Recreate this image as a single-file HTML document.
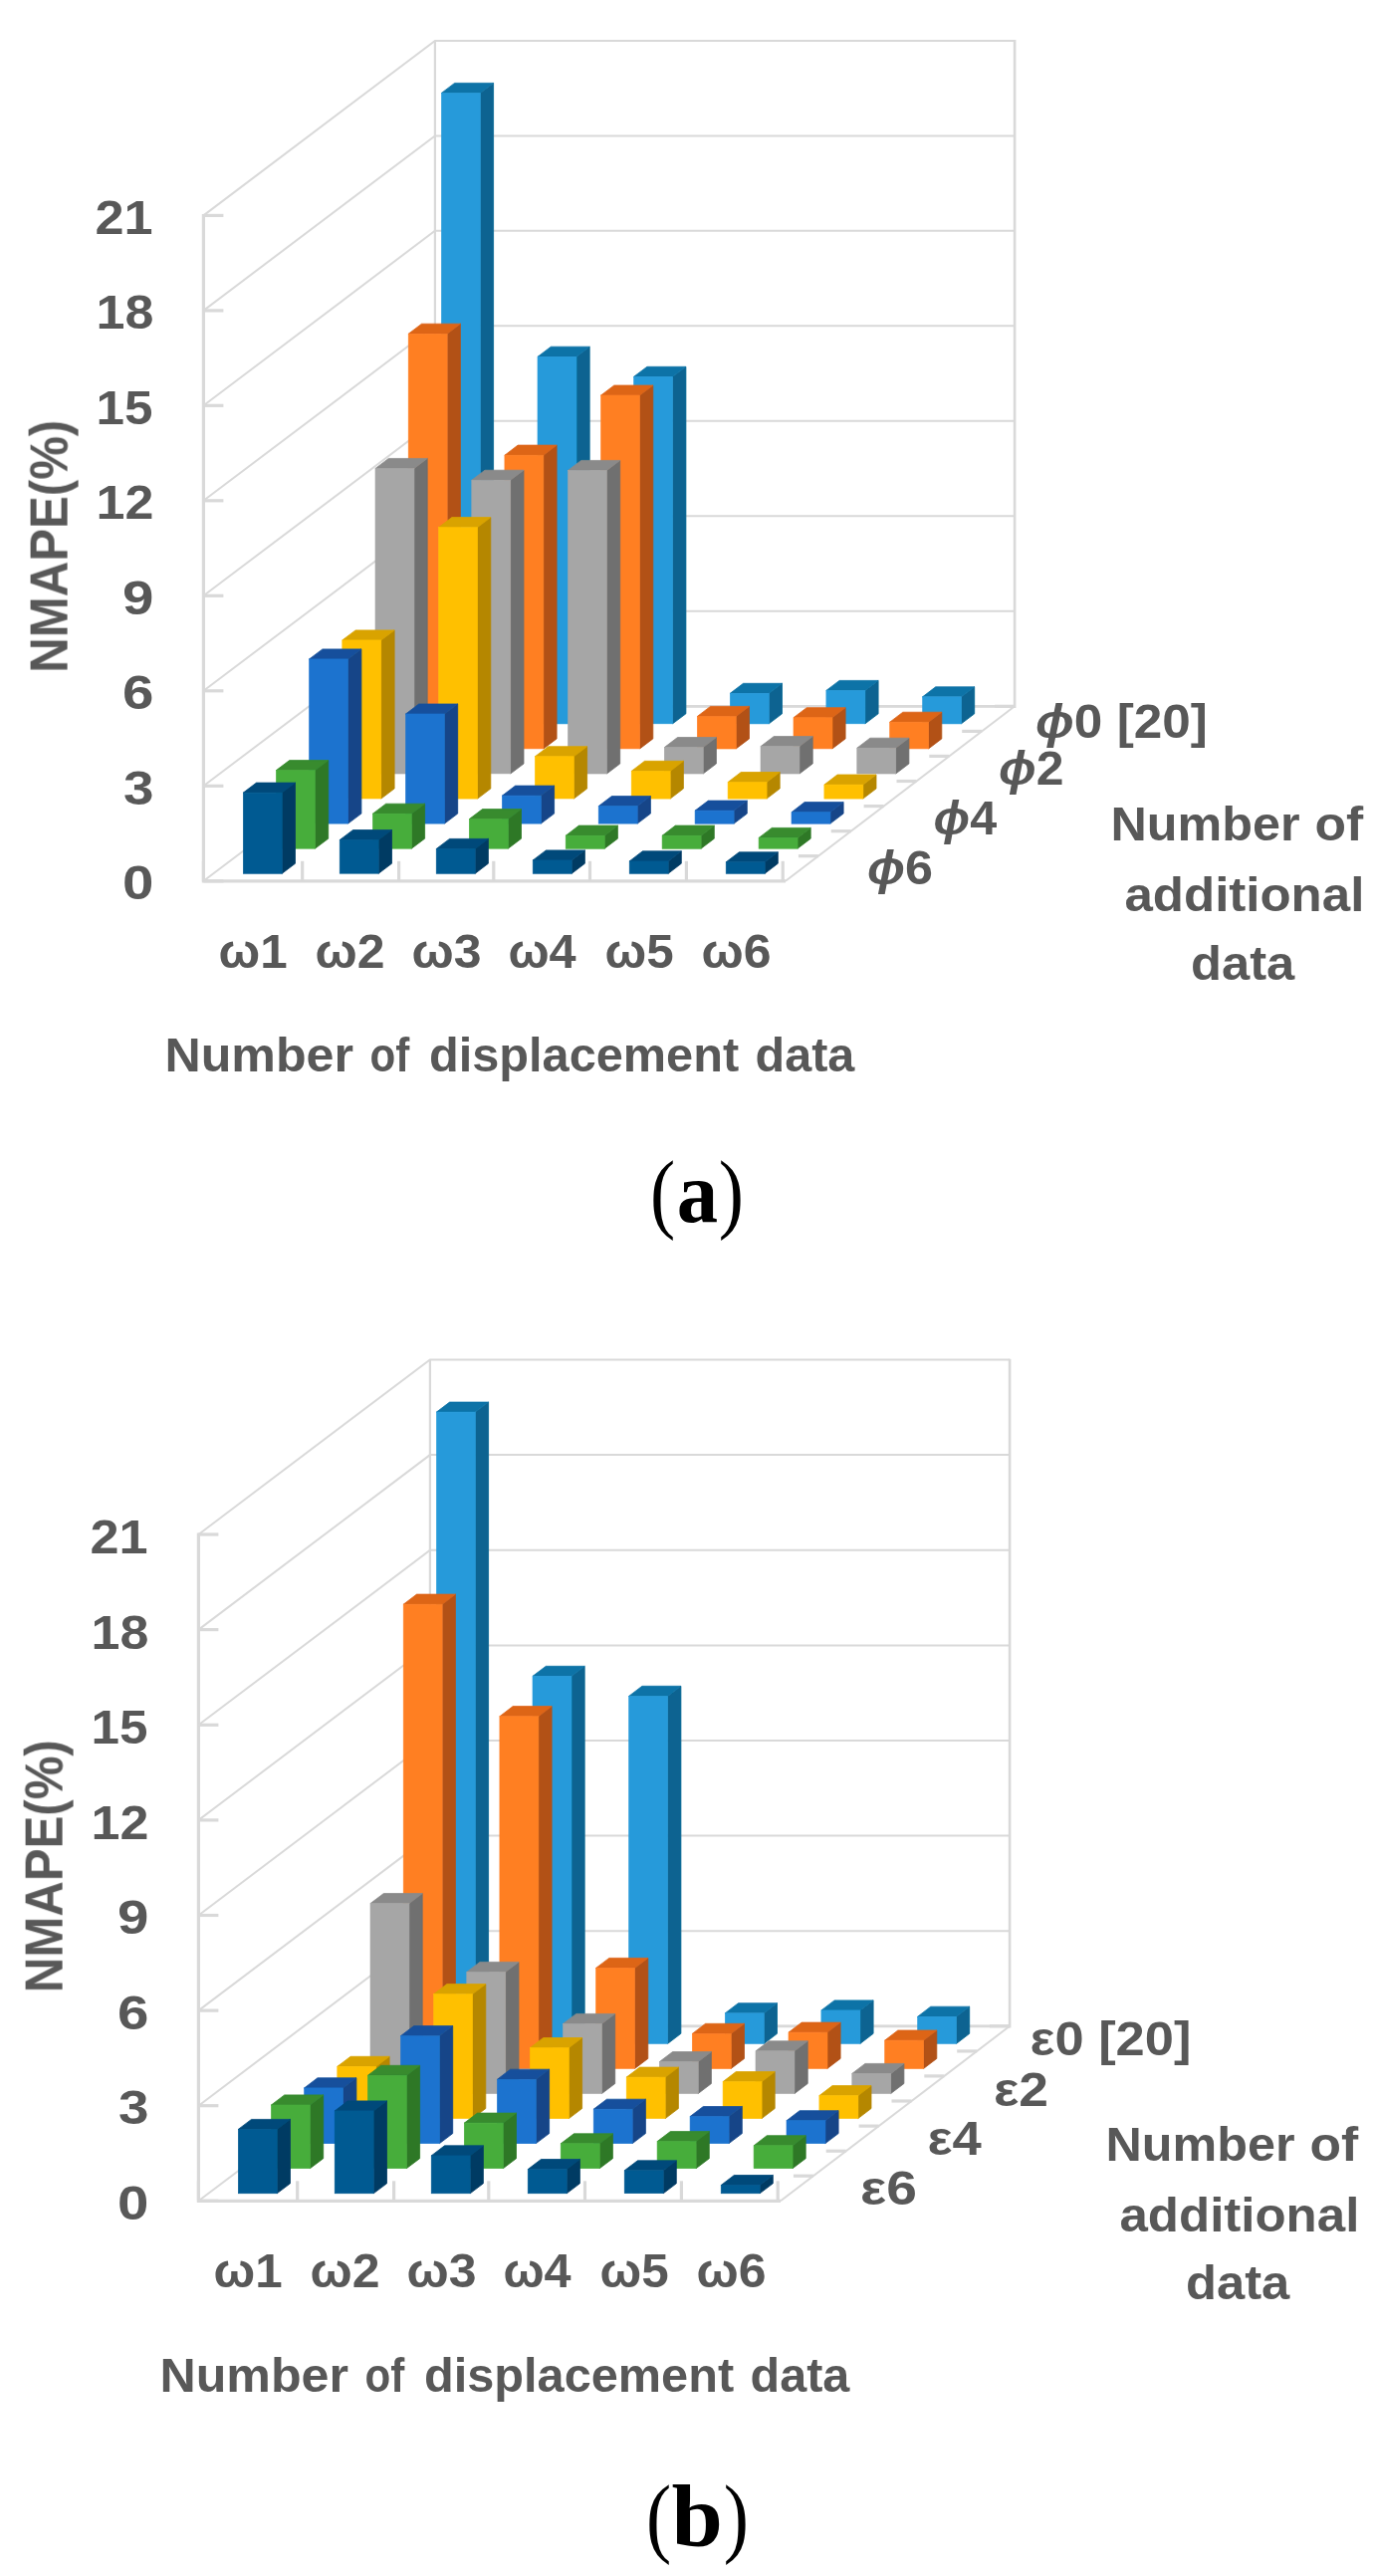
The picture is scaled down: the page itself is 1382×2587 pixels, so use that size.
<!DOCTYPE html>
<html><head><meta charset="utf-8"><title>Figure</title>
<style>html,body{margin:0;padding:0;background:#fff}svg{display:block}text{font-family:"Liberation Sans",sans-serif;font-weight:bold;fill:#595959}text.cp{font-family:"Liberation Serif",serif;font-weight:normal;font-size:88px;fill:#000;text-anchor:middle}text.cb{font-weight:bold}</style></head>
<body>
<svg width="1382" height="2587" viewBox="0 0 1382 2587">
<rect width="1382" height="2587" fill="#fff"/>
<defs><filter id="sb" x="0" y="0" width="100%" height="100%" filterUnits="userSpaceOnUse"><feGaussianBlur stdDeviation="0.55"/></filter></defs>
<g filter="url(#sb)">
<path d="M204.4 884.8 L436.9 709.3 L1019.1 709.3" fill="none" stroke="#d9d9d9" stroke-width="2.0"/>
<path d="M204.4 789.3 L436.9 613.8 L1019.1 613.8" fill="none" stroke="#d9d9d9" stroke-width="2.0"/>
<path d="M204.4 693.8 L436.9 518.3 L1019.1 518.3" fill="none" stroke="#d9d9d9" stroke-width="2.0"/>
<path d="M204.4 598.3 L436.9 422.8 L1019.1 422.8" fill="none" stroke="#d9d9d9" stroke-width="2.0"/>
<path d="M204.4 502.8 L436.9 327.3 L1019.1 327.3" fill="none" stroke="#d9d9d9" stroke-width="2.0"/>
<path d="M204.4 407.3 L436.9 231.8 L1019.1 231.8" fill="none" stroke="#d9d9d9" stroke-width="2.0"/>
<path d="M204.4 311.9 L436.9 136.4 L1019.1 136.4" fill="none" stroke="#d9d9d9" stroke-width="2.0"/>
<path d="M204.4 216.4 L436.9 40.9 L1019.1 40.9" fill="none" stroke="#d9d9d9" stroke-width="2.0"/>
<path d="M436.9 709.3 V40.9" fill="none" stroke="#d9d9d9" stroke-width="2.2"/>
<path d="M1019.1 710.9 V40.1" fill="none" stroke="#d9d9d9" stroke-width="2.6"/>
<path d="M436.9 709.3 H1019.1" stroke="#d9d9d9" stroke-width="2.8" fill="none"/>
<path d="M789.0 884.8 L1019.1 709.3" stroke="#d9d9d9" stroke-width="2" fill="none"/>
<path d="M204.4 214.9 V884.8 H789.0" stroke="#d9d9d9" stroke-width="3.2" fill="none" stroke-linejoin="miter"/>
<path d="M204.4 884.8 h20" stroke="#d9d9d9" stroke-width="3.2"/>
<path d="M204.4 789.3 h20" stroke="#d9d9d9" stroke-width="3.2"/>
<path d="M204.4 693.8 h20" stroke="#d9d9d9" stroke-width="3.2"/>
<path d="M204.4 598.3 h20" stroke="#d9d9d9" stroke-width="3.2"/>
<path d="M204.4 502.8 h20" stroke="#d9d9d9" stroke-width="3.2"/>
<path d="M204.4 407.3 h20" stroke="#d9d9d9" stroke-width="3.2"/>
<path d="M204.4 311.9 h20" stroke="#d9d9d9" stroke-width="3.2"/>
<path d="M204.4 216.4 h20" stroke="#d9d9d9" stroke-width="3.2"/>
<path d="M204.4 884.8 v-20" stroke="#d9d9d9" stroke-width="3.2"/>
<path d="M303.7 884.8 v-20" stroke="#d9d9d9" stroke-width="3.2"/>
<path d="M400.6 884.8 v-20" stroke="#d9d9d9" stroke-width="3.2"/>
<path d="M495.8 884.8 v-20" stroke="#d9d9d9" stroke-width="3.2"/>
<path d="M592.5 884.8 v-20" stroke="#d9d9d9" stroke-width="3.2"/>
<path d="M689.4 884.8 v-20" stroke="#d9d9d9" stroke-width="3.2"/>
<path d="M786.2 884.8 v-20" stroke="#d9d9d9" stroke-width="3.2"/>
<path d="M821.9 859.7 h-20" stroke="#d9d9d9" stroke-width="3.2"/>
<path d="M854.7 834.7 h-20" stroke="#d9d9d9" stroke-width="3.2"/>
<path d="M887.6 809.6 h-20" stroke="#d9d9d9" stroke-width="3.2"/>
<path d="M920.5 784.5 h-20" stroke="#d9d9d9" stroke-width="3.2"/>
<path d="M953.3 759.4 h-20" stroke="#d9d9d9" stroke-width="3.2"/>
<path d="M986.2 734.4 h-20" stroke="#d9d9d9" stroke-width="3.2"/>
<path d="M1019.1 709.3 h-20" stroke="#d9d9d9" stroke-width="3.2"/>
<path d="M482.3 726.8 L495.6 716.8 L495.6 83.4 L482.3 93.4Z" fill="#086491" stroke="#086491" stroke-width="0.8" stroke-linejoin="round"/>
<path d="M443.4 93.4 L456.6 83.4 L495.6 83.4 L482.3 93.4Z" fill="#0d73a7" stroke="#0d73a7" stroke-width="0.8" stroke-linejoin="round"/>
<rect x="443.4" y="93.4" width="39.0" height="633.4" fill="#269ada" stroke="#269ada" stroke-width="0.6"/>
<path d="M579.0 726.8 L592.2 716.8 L592.2 348.2 L579.0 358.3Z" fill="#086491" stroke="#086491" stroke-width="0.8" stroke-linejoin="round"/>
<path d="M540.0 358.3 L553.3 348.2 L592.2 348.2 L579.0 358.3Z" fill="#0d73a7" stroke="#0d73a7" stroke-width="0.8" stroke-linejoin="round"/>
<rect x="540.0" y="358.3" width="39.0" height="368.6" fill="#269ada" stroke="#269ada" stroke-width="0.6"/>
<path d="M675.6 726.8 L688.9 716.8 L688.9 368.3 L675.6 378.3Z" fill="#086491" stroke="#086491" stroke-width="0.8" stroke-linejoin="round"/>
<path d="M636.6 378.3 L649.9 368.3 L688.9 368.3 L675.6 378.3Z" fill="#0d73a7" stroke="#0d73a7" stroke-width="0.8" stroke-linejoin="round"/>
<rect x="636.6" y="378.3" width="39.0" height="348.5" fill="#269ada" stroke="#269ada" stroke-width="0.6"/>
<path d="M772.3 726.8 L785.5 716.8 L785.5 686.3 L772.3 696.3Z" fill="#086491" stroke="#086491" stroke-width="0.8" stroke-linejoin="round"/>
<path d="M733.3 696.3 L746.5 686.3 L785.5 686.3 L772.3 696.3Z" fill="#0d73a7" stroke="#0d73a7" stroke-width="0.8" stroke-linejoin="round"/>
<rect x="733.3" y="696.3" width="39.0" height="30.6" fill="#269ada" stroke="#269ada" stroke-width="0.6"/>
<path d="M868.9 726.8 L882.1 716.8 L882.1 683.4 L868.9 693.4Z" fill="#086491" stroke="#086491" stroke-width="0.8" stroke-linejoin="round"/>
<path d="M829.9 693.4 L843.1 683.4 L882.1 683.4 L868.9 693.4Z" fill="#0d73a7" stroke="#0d73a7" stroke-width="0.8" stroke-linejoin="round"/>
<rect x="829.9" y="693.4" width="39.0" height="33.4" fill="#269ada" stroke="#269ada" stroke-width="0.6"/>
<path d="M965.5 726.8 L978.7 716.8 L978.7 689.8 L965.5 699.8Z" fill="#086491" stroke="#086491" stroke-width="0.8" stroke-linejoin="round"/>
<path d="M926.6 699.8 L939.7 689.8 L978.7 689.8 L965.5 699.8Z" fill="#0d73a7" stroke="#0d73a7" stroke-width="0.8" stroke-linejoin="round"/>
<rect x="926.6" y="699.8" width="39.0" height="27.1" fill="#269ada" stroke="#269ada" stroke-width="0.6"/>
<path d="M449.2 751.9 L462.4 741.9 L462.4 325.2 L449.2 335.3Z" fill="#b25116" stroke="#b25116" stroke-width="0.8" stroke-linejoin="round"/>
<path d="M410.2 335.3 L423.5 325.2 L462.4 325.2 L449.2 335.3Z" fill="#dd6519" stroke="#dd6519" stroke-width="0.8" stroke-linejoin="round"/>
<rect x="410.2" y="335.3" width="39.0" height="416.7" fill="#ff7f24" stroke="#ff7f24" stroke-width="0.6"/>
<path d="M545.9 751.9 L559.1 741.9 L559.1 447.1 L545.9 457.2Z" fill="#b25116" stroke="#b25116" stroke-width="0.8" stroke-linejoin="round"/>
<path d="M506.9 457.2 L520.1 447.1 L559.1 447.1 L545.9 457.2Z" fill="#dd6519" stroke="#dd6519" stroke-width="0.8" stroke-linejoin="round"/>
<rect x="506.9" y="457.2" width="39.0" height="294.7" fill="#ff7f24" stroke="#ff7f24" stroke-width="0.6"/>
<path d="M642.6 751.9 L655.8 741.9 L655.8 387.0 L642.6 397.0Z" fill="#b25116" stroke="#b25116" stroke-width="0.8" stroke-linejoin="round"/>
<path d="M603.6 397.0 L616.8 387.0 L655.8 387.0 L642.6 397.0Z" fill="#dd6519" stroke="#dd6519" stroke-width="0.8" stroke-linejoin="round"/>
<rect x="603.6" y="397.0" width="39.0" height="354.9" fill="#ff7f24" stroke="#ff7f24" stroke-width="0.6"/>
<path d="M739.2 751.9 L752.5 741.9 L752.5 709.4 L739.2 719.5Z" fill="#b25116" stroke="#b25116" stroke-width="0.8" stroke-linejoin="round"/>
<path d="M700.3 719.5 L713.5 709.4 L752.5 709.4 L739.2 719.5Z" fill="#dd6519" stroke="#dd6519" stroke-width="0.8" stroke-linejoin="round"/>
<rect x="700.3" y="719.5" width="39.0" height="32.5" fill="#ff7f24" stroke="#ff7f24" stroke-width="0.6"/>
<path d="M835.9 751.9 L849.1 741.9 L849.1 710.7 L835.9 720.7Z" fill="#b25116" stroke="#b25116" stroke-width="0.8" stroke-linejoin="round"/>
<path d="M797.0 720.7 L810.2 710.7 L849.1 710.7 L835.9 720.7Z" fill="#dd6519" stroke="#dd6519" stroke-width="0.8" stroke-linejoin="round"/>
<rect x="797.0" y="720.7" width="39.0" height="31.2" fill="#ff7f24" stroke="#ff7f24" stroke-width="0.6"/>
<path d="M932.6 751.9 L945.8 741.9 L945.8 715.2 L932.6 725.2Z" fill="#b25116" stroke="#b25116" stroke-width="0.8" stroke-linejoin="round"/>
<path d="M893.7 725.2 L906.8 715.2 L945.8 715.2 L932.6 725.2Z" fill="#dd6519" stroke="#dd6519" stroke-width="0.8" stroke-linejoin="round"/>
<rect x="893.7" y="725.2" width="39.0" height="26.7" fill="#ff7f24" stroke="#ff7f24" stroke-width="0.6"/>
<path d="M416.0 777.0 L429.2 767.0 L429.2 460.4 L416.0 470.5Z" fill="#6f6f6f" stroke="#6f6f6f" stroke-width="0.8" stroke-linejoin="round"/>
<path d="M377.0 470.5 L390.3 460.4 L429.2 460.4 L416.0 470.5Z" fill="#8a8a8a" stroke="#8a8a8a" stroke-width="0.8" stroke-linejoin="round"/>
<rect x="377.0" y="470.5" width="39.0" height="306.5" fill="#a6a6a6" stroke="#a6a6a6" stroke-width="0.6"/>
<path d="M512.7 777.0 L526.0 767.0 L526.0 472.2 L512.7 482.2Z" fill="#6f6f6f" stroke="#6f6f6f" stroke-width="0.8" stroke-linejoin="round"/>
<path d="M473.8 482.2 L487.0 472.2 L526.0 472.2 L512.7 482.2Z" fill="#8a8a8a" stroke="#8a8a8a" stroke-width="0.8" stroke-linejoin="round"/>
<rect x="473.8" y="482.2" width="39.0" height="294.7" fill="#a6a6a6" stroke="#a6a6a6" stroke-width="0.6"/>
<path d="M609.5 777.0 L622.7 767.0 L622.7 462.4 L609.5 472.4Z" fill="#6f6f6f" stroke="#6f6f6f" stroke-width="0.8" stroke-linejoin="round"/>
<path d="M570.5 472.4 L583.7 462.4 L622.7 462.4 L609.5 472.4Z" fill="#8a8a8a" stroke="#8a8a8a" stroke-width="0.8" stroke-linejoin="round"/>
<rect x="570.5" y="472.4" width="39.0" height="304.6" fill="#a6a6a6" stroke="#a6a6a6" stroke-width="0.6"/>
<path d="M706.2 777.0 L719.4 767.0 L719.4 740.5 L706.2 750.6Z" fill="#6f6f6f" stroke="#6f6f6f" stroke-width="0.8" stroke-linejoin="round"/>
<path d="M667.3 750.6 L680.5 740.5 L719.4 740.5 L706.2 750.6Z" fill="#8a8a8a" stroke="#8a8a8a" stroke-width="0.8" stroke-linejoin="round"/>
<rect x="667.3" y="750.6" width="39.0" height="26.4" fill="#a6a6a6" stroke="#a6a6a6" stroke-width="0.6"/>
<path d="M803.0 777.0 L816.2 767.0 L816.2 739.6 L803.0 749.6Z" fill="#6f6f6f" stroke="#6f6f6f" stroke-width="0.8" stroke-linejoin="round"/>
<path d="M764.0 749.6 L777.2 739.6 L816.2 739.6 L803.0 749.6Z" fill="#8a8a8a" stroke="#8a8a8a" stroke-width="0.8" stroke-linejoin="round"/>
<rect x="764.0" y="749.6" width="39.0" height="27.4" fill="#a6a6a6" stroke="#a6a6a6" stroke-width="0.6"/>
<path d="M899.7 777.0 L912.9 767.0 L912.9 741.2 L899.7 751.2Z" fill="#6f6f6f" stroke="#6f6f6f" stroke-width="0.8" stroke-linejoin="round"/>
<path d="M860.8 751.2 L873.9 741.2 L912.9 741.2 L899.7 751.2Z" fill="#8a8a8a" stroke="#8a8a8a" stroke-width="0.8" stroke-linejoin="round"/>
<rect x="860.8" y="751.2" width="39.0" height="25.8" fill="#a6a6a6" stroke="#a6a6a6" stroke-width="0.6"/>
<path d="M382.8 802.1 L396.1 792.0 L396.1 632.9 L382.8 642.9Z" fill="#b58700" stroke="#b58700" stroke-width="0.8" stroke-linejoin="round"/>
<path d="M343.8 642.9 L357.1 632.9 L396.1 632.9 L382.8 642.9Z" fill="#d9a300" stroke="#d9a300" stroke-width="0.8" stroke-linejoin="round"/>
<rect x="343.8" y="642.9" width="39.0" height="159.1" fill="#ffc000" stroke="#ffc000" stroke-width="0.6"/>
<path d="M479.6 802.1 L492.8 792.0 L492.8 519.6 L479.6 529.6Z" fill="#b58700" stroke="#b58700" stroke-width="0.8" stroke-linejoin="round"/>
<path d="M440.6 529.6 L453.9 519.6 L492.8 519.6 L479.6 529.6Z" fill="#d9a300" stroke="#d9a300" stroke-width="0.8" stroke-linejoin="round"/>
<rect x="440.6" y="529.6" width="39.0" height="272.5" fill="#ffc000" stroke="#ffc000" stroke-width="0.6"/>
<path d="M576.4 802.1 L589.6 792.0 L589.6 749.7 L576.4 759.7Z" fill="#b58700" stroke="#b58700" stroke-width="0.8" stroke-linejoin="round"/>
<path d="M537.4 759.7 L550.7 749.7 L589.6 749.7 L576.4 759.7Z" fill="#d9a300" stroke="#d9a300" stroke-width="0.8" stroke-linejoin="round"/>
<rect x="537.4" y="759.7" width="39.0" height="42.3" fill="#ffc000" stroke="#ffc000" stroke-width="0.6"/>
<path d="M673.2 802.1 L686.4 792.0 L686.4 764.3 L673.2 774.4Z" fill="#b58700" stroke="#b58700" stroke-width="0.8" stroke-linejoin="round"/>
<path d="M634.2 774.4 L647.5 764.3 L686.4 764.3 L673.2 774.4Z" fill="#d9a300" stroke="#d9a300" stroke-width="0.8" stroke-linejoin="round"/>
<rect x="634.2" y="774.4" width="39.0" height="27.7" fill="#ffc000" stroke="#ffc000" stroke-width="0.6"/>
<path d="M770.0 802.1 L783.2 792.0 L783.2 775.5 L770.0 785.5Z" fill="#b58700" stroke="#b58700" stroke-width="0.8" stroke-linejoin="round"/>
<path d="M731.1 785.5 L744.2 775.5 L783.2 775.5 L770.0 785.5Z" fill="#d9a300" stroke="#d9a300" stroke-width="0.8" stroke-linejoin="round"/>
<rect x="731.1" y="785.5" width="39.0" height="16.6" fill="#ffc000" stroke="#ffc000" stroke-width="0.6"/>
<path d="M866.8 802.1 L880.0 792.0 L880.0 778.0 L866.8 788.1Z" fill="#b58700" stroke="#b58700" stroke-width="0.8" stroke-linejoin="round"/>
<path d="M827.9 788.1 L841.0 778.0 L880.0 778.0 L866.8 788.1Z" fill="#d9a300" stroke="#d9a300" stroke-width="0.8" stroke-linejoin="round"/>
<rect x="827.9" y="788.1" width="39.0" height="14.0" fill="#ffc000" stroke="#ffc000" stroke-width="0.6"/>
<path d="M349.6 827.1 L362.9 817.1 L362.9 651.9 L349.6 661.9Z" fill="#134488" stroke="#134488" stroke-width="0.8" stroke-linejoin="round"/>
<path d="M310.6 661.9 L323.9 651.9 L362.9 651.9 L349.6 661.9Z" fill="#17509c" stroke="#17509c" stroke-width="0.8" stroke-linejoin="round"/>
<rect x="310.6" y="661.9" width="39.0" height="165.2" fill="#1c73cf" stroke="#1c73cf" stroke-width="0.6"/>
<path d="M446.5 827.1 L459.7 817.1 L459.7 707.0 L446.5 717.0Z" fill="#134488" stroke="#134488" stroke-width="0.8" stroke-linejoin="round"/>
<path d="M407.5 717.0 L420.7 707.0 L459.7 707.0 L446.5 717.0Z" fill="#17509c" stroke="#17509c" stroke-width="0.8" stroke-linejoin="round"/>
<rect x="407.5" y="717.0" width="39.0" height="110.1" fill="#1c73cf" stroke="#1c73cf" stroke-width="0.6"/>
<path d="M543.3 827.1 L556.6 817.1 L556.6 789.1 L543.3 799.1Z" fill="#134488" stroke="#134488" stroke-width="0.8" stroke-linejoin="round"/>
<path d="M504.4 799.1 L517.6 789.1 L556.6 789.1 L543.3 799.1Z" fill="#17509c" stroke="#17509c" stroke-width="0.8" stroke-linejoin="round"/>
<rect x="504.4" y="799.1" width="39.0" height="28.0" fill="#1c73cf" stroke="#1c73cf" stroke-width="0.6"/>
<path d="M640.2 827.1 L653.4 817.1 L653.4 799.6 L640.2 809.6Z" fill="#134488" stroke="#134488" stroke-width="0.8" stroke-linejoin="round"/>
<path d="M601.2 809.6 L614.4 799.6 L653.4 799.6 L640.2 809.6Z" fill="#17509c" stroke="#17509c" stroke-width="0.8" stroke-linejoin="round"/>
<rect x="601.2" y="809.6" width="39.0" height="17.5" fill="#1c73cf" stroke="#1c73cf" stroke-width="0.6"/>
<path d="M737.1 827.1 L750.3 817.1 L750.3 804.1 L737.1 814.1Z" fill="#134488" stroke="#134488" stroke-width="0.8" stroke-linejoin="round"/>
<path d="M698.1 814.1 L711.3 804.1 L750.3 804.1 L737.1 814.1Z" fill="#17509c" stroke="#17509c" stroke-width="0.8" stroke-linejoin="round"/>
<rect x="698.1" y="814.1" width="39.0" height="13.1" fill="#1c73cf" stroke="#1c73cf" stroke-width="0.6"/>
<path d="M833.9 827.1 L847.1 817.1 L847.1 805.6 L833.9 815.7Z" fill="#134488" stroke="#134488" stroke-width="0.8" stroke-linejoin="round"/>
<path d="M795.0 815.7 L808.1 805.6 L847.1 805.6 L833.9 815.7Z" fill="#17509c" stroke="#17509c" stroke-width="0.8" stroke-linejoin="round"/>
<rect x="795.0" y="815.7" width="39.0" height="11.5" fill="#1c73cf" stroke="#1c73cf" stroke-width="0.6"/>
<path d="M316.4 852.2 L329.7 842.2 L329.7 763.6 L316.4 773.6Z" fill="#2e7826" stroke="#2e7826" stroke-width="0.8" stroke-linejoin="round"/>
<path d="M277.4 773.6 L290.7 763.6 L329.7 763.6 L316.4 773.6Z" fill="#378b2e" stroke="#378b2e" stroke-width="0.8" stroke-linejoin="round"/>
<rect x="277.4" y="773.6" width="39.0" height="78.6" fill="#47ad3b" stroke="#47ad3b" stroke-width="0.6"/>
<path d="M413.3 852.2 L426.6 842.2 L426.6 807.2 L413.3 817.2Z" fill="#2e7826" stroke="#2e7826" stroke-width="0.8" stroke-linejoin="round"/>
<path d="M374.4 817.2 L387.6 807.2 L426.6 807.2 L413.3 817.2Z" fill="#378b2e" stroke="#378b2e" stroke-width="0.8" stroke-linejoin="round"/>
<rect x="374.4" y="817.2" width="39.0" height="35.0" fill="#47ad3b" stroke="#47ad3b" stroke-width="0.6"/>
<path d="M510.3 852.2 L523.5 842.2 L523.5 812.6 L510.3 822.6Z" fill="#2e7826" stroke="#2e7826" stroke-width="0.8" stroke-linejoin="round"/>
<path d="M471.3 822.6 L484.5 812.6 L523.5 812.6 L510.3 822.6Z" fill="#378b2e" stroke="#378b2e" stroke-width="0.8" stroke-linejoin="round"/>
<rect x="471.3" y="822.6" width="39.0" height="29.6" fill="#47ad3b" stroke="#47ad3b" stroke-width="0.6"/>
<path d="M607.2 852.2 L620.4 842.2 L620.4 829.1 L607.2 839.2Z" fill="#2e7826" stroke="#2e7826" stroke-width="0.8" stroke-linejoin="round"/>
<path d="M568.2 839.2 L581.4 829.1 L620.4 829.1 L607.2 839.2Z" fill="#378b2e" stroke="#378b2e" stroke-width="0.8" stroke-linejoin="round"/>
<rect x="568.2" y="839.2" width="39.0" height="13.1" fill="#47ad3b" stroke="#47ad3b" stroke-width="0.6"/>
<path d="M704.1 852.2 L717.3 842.2 L717.3 829.1 L704.1 839.2Z" fill="#2e7826" stroke="#2e7826" stroke-width="0.8" stroke-linejoin="round"/>
<path d="M665.1 839.2 L678.3 829.1 L717.3 829.1 L704.1 839.2Z" fill="#378b2e" stroke="#378b2e" stroke-width="0.8" stroke-linejoin="round"/>
<rect x="665.1" y="839.2" width="39.0" height="13.1" fill="#47ad3b" stroke="#47ad3b" stroke-width="0.6"/>
<path d="M801.0 852.2 L814.2 842.2 L814.2 831.4 L801.0 841.4Z" fill="#2e7826" stroke="#2e7826" stroke-width="0.8" stroke-linejoin="round"/>
<path d="M762.1 841.4 L775.2 831.4 L814.2 831.4 L801.0 841.4Z" fill="#378b2e" stroke="#378b2e" stroke-width="0.8" stroke-linejoin="round"/>
<rect x="762.1" y="841.4" width="39.0" height="10.8" fill="#47ad3b" stroke="#47ad3b" stroke-width="0.6"/>
<path d="M283.2 877.3 L296.5 867.2 L296.5 786.1 L283.2 796.1Z" fill="#003a63" stroke="#003a63" stroke-width="0.8" stroke-linejoin="round"/>
<path d="M244.3 796.1 L257.5 786.1 L296.5 786.1 L283.2 796.1Z" fill="#00497a" stroke="#00497a" stroke-width="0.8" stroke-linejoin="round"/>
<rect x="244.3" y="796.1" width="39.0" height="81.2" fill="#005a92" stroke="#005a92" stroke-width="0.6"/>
<path d="M380.2 877.3 L393.5 867.2 L393.5 833.5 L380.2 843.5Z" fill="#003a63" stroke="#003a63" stroke-width="0.8" stroke-linejoin="round"/>
<path d="M341.2 843.5 L354.5 833.5 L393.5 833.5 L380.2 843.5Z" fill="#00497a" stroke="#00497a" stroke-width="0.8" stroke-linejoin="round"/>
<rect x="341.2" y="843.5" width="39.0" height="33.7" fill="#005a92" stroke="#005a92" stroke-width="0.6"/>
<path d="M477.2 877.3 L490.4 867.2 L490.4 842.4 L477.2 852.5Z" fill="#003a63" stroke="#003a63" stroke-width="0.8" stroke-linejoin="round"/>
<path d="M438.2 852.5 L451.5 842.4 L490.4 842.4 L477.2 852.5Z" fill="#00497a" stroke="#00497a" stroke-width="0.8" stroke-linejoin="round"/>
<rect x="438.2" y="852.5" width="39.0" height="24.8" fill="#005a92" stroke="#005a92" stroke-width="0.6"/>
<path d="M574.2 877.3 L587.4 867.2 L587.4 853.9 L574.2 863.9Z" fill="#003a63" stroke="#003a63" stroke-width="0.8" stroke-linejoin="round"/>
<path d="M535.2 863.9 L548.4 853.9 L587.4 853.9 L574.2 863.9Z" fill="#00497a" stroke="#00497a" stroke-width="0.8" stroke-linejoin="round"/>
<rect x="535.2" y="863.9" width="39.0" height="13.4" fill="#005a92" stroke="#005a92" stroke-width="0.6"/>
<path d="M671.2 877.3 L684.3 867.2 L684.3 854.8 L671.2 864.9Z" fill="#003a63" stroke="#003a63" stroke-width="0.8" stroke-linejoin="round"/>
<path d="M632.2 864.9 L645.4 854.8 L684.3 854.8 L671.2 864.9Z" fill="#00497a" stroke="#00497a" stroke-width="0.8" stroke-linejoin="round"/>
<rect x="632.2" y="864.9" width="39.0" height="12.4" fill="#005a92" stroke="#005a92" stroke-width="0.6"/>
<path d="M768.1 877.3 L781.3 867.2 L781.3 855.8 L768.1 865.8Z" fill="#003a63" stroke="#003a63" stroke-width="0.8" stroke-linejoin="round"/>
<path d="M729.2 865.8 L742.3 855.8 L781.3 855.8 L768.1 865.8Z" fill="#00497a" stroke="#00497a" stroke-width="0.8" stroke-linejoin="round"/>
<rect x="729.2" y="865.8" width="39.0" height="11.5" fill="#005a92" stroke="#005a92" stroke-width="0.6"/>
<path d="M199.4 2210.3 L431.9 2034.8 L1014.1 2034.8" fill="none" stroke="#d9d9d9" stroke-width="2.0"/>
<path d="M199.4 2114.7 L431.9 1939.2 L1014.1 1939.2" fill="none" stroke="#d9d9d9" stroke-width="2.0"/>
<path d="M199.4 2019.1 L431.9 1843.6 L1014.1 1843.6" fill="none" stroke="#d9d9d9" stroke-width="2.0"/>
<path d="M199.4 1923.5 L431.9 1748.0 L1014.1 1748.0" fill="none" stroke="#d9d9d9" stroke-width="2.0"/>
<path d="M199.4 1827.9 L431.9 1652.4 L1014.1 1652.4" fill="none" stroke="#d9d9d9" stroke-width="2.0"/>
<path d="M199.4 1732.3 L431.9 1556.8 L1014.1 1556.8" fill="none" stroke="#d9d9d9" stroke-width="2.0"/>
<path d="M199.4 1636.6 L431.9 1461.1 L1014.1 1461.1" fill="none" stroke="#d9d9d9" stroke-width="2.0"/>
<path d="M199.4 1541.0 L431.9 1365.5 L1014.1 1365.5" fill="none" stroke="#d9d9d9" stroke-width="2.0"/>
<path d="M431.9 2034.8 V1365.5" fill="none" stroke="#d9d9d9" stroke-width="2.2"/>
<path d="M1014.1 2036.4 V1364.7" fill="none" stroke="#d9d9d9" stroke-width="2.6"/>
<path d="M431.9 2034.8 H1014.1" stroke="#d9d9d9" stroke-width="2.8" fill="none"/>
<path d="M784.0 2210.3 L1014.1 2034.8" stroke="#d9d9d9" stroke-width="2" fill="none"/>
<path d="M199.4 1539.5 V2210.3 H784.0" stroke="#d9d9d9" stroke-width="3.2" fill="none" stroke-linejoin="miter"/>
<path d="M199.4 2210.3 h20" stroke="#d9d9d9" stroke-width="3.2"/>
<path d="M199.4 2114.7 h20" stroke="#d9d9d9" stroke-width="3.2"/>
<path d="M199.4 2019.1 h20" stroke="#d9d9d9" stroke-width="3.2"/>
<path d="M199.4 1923.5 h20" stroke="#d9d9d9" stroke-width="3.2"/>
<path d="M199.4 1827.9 h20" stroke="#d9d9d9" stroke-width="3.2"/>
<path d="M199.4 1732.3 h20" stroke="#d9d9d9" stroke-width="3.2"/>
<path d="M199.4 1636.6 h20" stroke="#d9d9d9" stroke-width="3.2"/>
<path d="M199.4 1541.0 h20" stroke="#d9d9d9" stroke-width="3.2"/>
<path d="M199.4 2210.3 v-20" stroke="#d9d9d9" stroke-width="3.2"/>
<path d="M298.7 2210.3 v-20" stroke="#d9d9d9" stroke-width="3.2"/>
<path d="M395.6 2210.3 v-20" stroke="#d9d9d9" stroke-width="3.2"/>
<path d="M490.8 2210.3 v-20" stroke="#d9d9d9" stroke-width="3.2"/>
<path d="M587.5 2210.3 v-20" stroke="#d9d9d9" stroke-width="3.2"/>
<path d="M684.4 2210.3 v-20" stroke="#d9d9d9" stroke-width="3.2"/>
<path d="M781.2 2210.3 v-20" stroke="#d9d9d9" stroke-width="3.2"/>
<path d="M816.9 2185.2 h-20" stroke="#d9d9d9" stroke-width="3.2"/>
<path d="M849.7 2160.2 h-20" stroke="#d9d9d9" stroke-width="3.2"/>
<path d="M882.6 2135.1 h-20" stroke="#d9d9d9" stroke-width="3.2"/>
<path d="M915.5 2110.0 h-20" stroke="#d9d9d9" stroke-width="3.2"/>
<path d="M948.3 2084.9 h-20" stroke="#d9d9d9" stroke-width="3.2"/>
<path d="M981.2 2059.9 h-20" stroke="#d9d9d9" stroke-width="3.2"/>
<path d="M1014.1 2034.8 h-20" stroke="#d9d9d9" stroke-width="3.2"/>
<path d="M477.3 2052.4 L490.6 2042.3 L490.6 1408.1 L477.3 1418.1Z" fill="#086491" stroke="#086491" stroke-width="0.8" stroke-linejoin="round"/>
<path d="M438.4 1418.1 L451.6 1408.1 L490.6 1408.1 L477.3 1418.1Z" fill="#0d73a7" stroke="#0d73a7" stroke-width="0.8" stroke-linejoin="round"/>
<rect x="438.4" y="1418.1" width="39.0" height="634.2" fill="#269ada" stroke="#269ada" stroke-width="0.6"/>
<path d="M574.0 2052.4 L587.2 2042.3 L587.2 1673.3 L574.0 1683.3Z" fill="#086491" stroke="#086491" stroke-width="0.8" stroke-linejoin="round"/>
<path d="M535.0 1683.3 L548.3 1673.3 L587.2 1673.3 L574.0 1683.3Z" fill="#0d73a7" stroke="#0d73a7" stroke-width="0.8" stroke-linejoin="round"/>
<rect x="535.0" y="1683.3" width="39.0" height="369.1" fill="#269ada" stroke="#269ada" stroke-width="0.6"/>
<path d="M670.6 2052.4 L683.9 2042.3 L683.9 1693.3 L670.6 1703.4Z" fill="#086491" stroke="#086491" stroke-width="0.8" stroke-linejoin="round"/>
<path d="M631.6 1703.4 L644.9 1693.3 L683.9 1693.3 L670.6 1703.4Z" fill="#0d73a7" stroke="#0d73a7" stroke-width="0.8" stroke-linejoin="round"/>
<rect x="631.6" y="1703.4" width="39.0" height="349.0" fill="#269ada" stroke="#269ada" stroke-width="0.6"/>
<path d="M767.3 2052.4 L780.5 2042.3 L780.5 2011.7 L767.3 2021.8Z" fill="#086491" stroke="#086491" stroke-width="0.8" stroke-linejoin="round"/>
<path d="M728.3 2021.8 L741.5 2011.7 L780.5 2011.7 L767.3 2021.8Z" fill="#0d73a7" stroke="#0d73a7" stroke-width="0.8" stroke-linejoin="round"/>
<rect x="728.3" y="2021.8" width="39.0" height="30.6" fill="#269ada" stroke="#269ada" stroke-width="0.6"/>
<path d="M863.9 2052.4 L877.1 2042.3 L877.1 2008.9 L863.9 2018.9Z" fill="#086491" stroke="#086491" stroke-width="0.8" stroke-linejoin="round"/>
<path d="M824.9 2018.9 L838.1 2008.9 L877.1 2008.9 L863.9 2018.9Z" fill="#0d73a7" stroke="#0d73a7" stroke-width="0.8" stroke-linejoin="round"/>
<rect x="824.9" y="2018.9" width="39.0" height="33.5" fill="#269ada" stroke="#269ada" stroke-width="0.6"/>
<path d="M960.5 2052.4 L973.7 2042.3 L973.7 2015.2 L960.5 2025.3Z" fill="#086491" stroke="#086491" stroke-width="0.8" stroke-linejoin="round"/>
<path d="M921.6 2025.3 L934.7 2015.2 L973.7 2015.2 L960.5 2025.3Z" fill="#0d73a7" stroke="#0d73a7" stroke-width="0.8" stroke-linejoin="round"/>
<rect x="921.6" y="2025.3" width="39.0" height="27.1" fill="#269ada" stroke="#269ada" stroke-width="0.6"/>
<path d="M444.2 2077.4 L457.4 2067.4 L457.4 1601.1 L444.2 1611.2Z" fill="#b25116" stroke="#b25116" stroke-width="0.8" stroke-linejoin="round"/>
<path d="M405.2 1611.2 L418.5 1601.1 L457.4 1601.1 L444.2 1611.2Z" fill="#dd6519" stroke="#dd6519" stroke-width="0.8" stroke-linejoin="round"/>
<rect x="405.2" y="1611.2" width="39.0" height="466.3" fill="#ff7f24" stroke="#ff7f24" stroke-width="0.6"/>
<path d="M540.9 2077.4 L554.1 2067.4 L554.1 1713.6 L540.9 1723.7Z" fill="#b25116" stroke="#b25116" stroke-width="0.8" stroke-linejoin="round"/>
<path d="M501.9 1723.7 L515.1 1713.6 L554.1 1713.6 L540.9 1723.7Z" fill="#dd6519" stroke="#dd6519" stroke-width="0.8" stroke-linejoin="round"/>
<rect x="501.9" y="1723.7" width="39.0" height="353.8" fill="#ff7f24" stroke="#ff7f24" stroke-width="0.6"/>
<path d="M637.6 2077.4 L650.8 2067.4 L650.8 1966.4 L637.6 1976.4Z" fill="#b25116" stroke="#b25116" stroke-width="0.8" stroke-linejoin="round"/>
<path d="M598.6 1976.4 L611.8 1966.4 L650.8 1966.4 L637.6 1976.4Z" fill="#dd6519" stroke="#dd6519" stroke-width="0.8" stroke-linejoin="round"/>
<rect x="598.6" y="1976.4" width="39.0" height="101.0" fill="#ff7f24" stroke="#ff7f24" stroke-width="0.6"/>
<path d="M734.2 2077.4 L747.5 2067.4 L747.5 2032.3 L734.2 2042.4Z" fill="#b25116" stroke="#b25116" stroke-width="0.8" stroke-linejoin="round"/>
<path d="M695.3 2042.4 L708.5 2032.3 L747.5 2032.3 L734.2 2042.4Z" fill="#dd6519" stroke="#dd6519" stroke-width="0.8" stroke-linejoin="round"/>
<rect x="695.3" y="2042.4" width="39.0" height="35.1" fill="#ff7f24" stroke="#ff7f24" stroke-width="0.6"/>
<path d="M830.9 2077.4 L844.1 2067.4 L844.1 2031.1 L830.9 2041.1Z" fill="#b25116" stroke="#b25116" stroke-width="0.8" stroke-linejoin="round"/>
<path d="M792.0 2041.1 L805.2 2031.1 L844.1 2031.1 L830.9 2041.1Z" fill="#dd6519" stroke="#dd6519" stroke-width="0.8" stroke-linejoin="round"/>
<rect x="792.0" y="2041.1" width="39.0" height="36.3" fill="#ff7f24" stroke="#ff7f24" stroke-width="0.6"/>
<path d="M927.6 2077.4 L940.8 2067.4 L940.8 2039.0 L927.6 2049.1Z" fill="#b25116" stroke="#b25116" stroke-width="0.8" stroke-linejoin="round"/>
<path d="M888.7 2049.1 L901.8 2039.0 L940.8 2039.0 L927.6 2049.1Z" fill="#dd6519" stroke="#dd6519" stroke-width="0.8" stroke-linejoin="round"/>
<rect x="888.7" y="2049.1" width="39.0" height="28.4" fill="#ff7f24" stroke="#ff7f24" stroke-width="0.6"/>
<path d="M411.0 2102.5 L424.2 2092.5 L424.2 1901.6 L411.0 1911.6Z" fill="#6f6f6f" stroke="#6f6f6f" stroke-width="0.8" stroke-linejoin="round"/>
<path d="M372.0 1911.6 L385.3 1901.6 L424.2 1901.6 L411.0 1911.6Z" fill="#8a8a8a" stroke="#8a8a8a" stroke-width="0.8" stroke-linejoin="round"/>
<rect x="372.0" y="1911.6" width="39.0" height="190.9" fill="#a6a6a6" stroke="#a6a6a6" stroke-width="0.6"/>
<path d="M507.7 2102.5 L521.0 2092.5 L521.0 1970.4 L507.7 1980.4Z" fill="#6f6f6f" stroke="#6f6f6f" stroke-width="0.8" stroke-linejoin="round"/>
<path d="M468.8 1980.4 L482.0 1970.4 L521.0 1970.4 L507.7 1980.4Z" fill="#8a8a8a" stroke="#8a8a8a" stroke-width="0.8" stroke-linejoin="round"/>
<rect x="468.8" y="1980.4" width="39.0" height="122.1" fill="#a6a6a6" stroke="#a6a6a6" stroke-width="0.6"/>
<path d="M604.5 2102.5 L617.7 2092.5 L617.7 2022.4 L604.5 2032.4Z" fill="#6f6f6f" stroke="#6f6f6f" stroke-width="0.8" stroke-linejoin="round"/>
<path d="M565.5 2032.4 L578.7 2022.4 L617.7 2022.4 L604.5 2032.4Z" fill="#8a8a8a" stroke="#8a8a8a" stroke-width="0.8" stroke-linejoin="round"/>
<rect x="565.5" y="2032.4" width="39.0" height="70.1" fill="#a6a6a6" stroke="#a6a6a6" stroke-width="0.6"/>
<path d="M701.2 2102.5 L714.4 2092.5 L714.4 2060.6 L701.2 2070.6Z" fill="#6f6f6f" stroke="#6f6f6f" stroke-width="0.8" stroke-linejoin="round"/>
<path d="M662.3 2070.6 L675.5 2060.6 L714.4 2060.6 L701.2 2070.6Z" fill="#8a8a8a" stroke="#8a8a8a" stroke-width="0.8" stroke-linejoin="round"/>
<rect x="662.3" y="2070.6" width="39.0" height="31.9" fill="#a6a6a6" stroke="#a6a6a6" stroke-width="0.6"/>
<path d="M798.0 2102.5 L811.2 2092.5 L811.2 2049.8 L798.0 2059.8Z" fill="#6f6f6f" stroke="#6f6f6f" stroke-width="0.8" stroke-linejoin="round"/>
<path d="M759.0 2059.8 L772.2 2049.8 L811.2 2049.8 L798.0 2059.8Z" fill="#8a8a8a" stroke="#8a8a8a" stroke-width="0.8" stroke-linejoin="round"/>
<rect x="759.0" y="2059.8" width="39.0" height="42.7" fill="#a6a6a6" stroke="#a6a6a6" stroke-width="0.6"/>
<path d="M894.7 2102.5 L907.9 2092.5 L907.9 2072.4 L894.7 2082.4Z" fill="#6f6f6f" stroke="#6f6f6f" stroke-width="0.8" stroke-linejoin="round"/>
<path d="M855.8 2082.4 L868.9 2072.4 L907.9 2072.4 L894.7 2082.4Z" fill="#8a8a8a" stroke="#8a8a8a" stroke-width="0.8" stroke-linejoin="round"/>
<rect x="855.8" y="2082.4" width="39.0" height="20.1" fill="#a6a6a6" stroke="#a6a6a6" stroke-width="0.6"/>
<path d="M377.8 2127.6 L391.1 2117.5 L391.1 2065.3 L377.8 2075.3Z" fill="#b58700" stroke="#b58700" stroke-width="0.8" stroke-linejoin="round"/>
<path d="M338.8 2075.3 L352.1 2065.3 L391.1 2065.3 L377.8 2075.3Z" fill="#d9a300" stroke="#d9a300" stroke-width="0.8" stroke-linejoin="round"/>
<rect x="338.8" y="2075.3" width="39.0" height="52.3" fill="#ffc000" stroke="#ffc000" stroke-width="0.6"/>
<path d="M474.6 2127.6 L487.8 2117.5 L487.8 1992.6 L474.6 2002.6Z" fill="#b58700" stroke="#b58700" stroke-width="0.8" stroke-linejoin="round"/>
<path d="M435.6 2002.6 L448.9 1992.6 L487.8 1992.6 L474.6 2002.6Z" fill="#d9a300" stroke="#d9a300" stroke-width="0.8" stroke-linejoin="round"/>
<rect x="435.6" y="2002.6" width="39.0" height="124.9" fill="#ffc000" stroke="#ffc000" stroke-width="0.6"/>
<path d="M571.4 2127.6 L584.6 2117.5 L584.6 2046.5 L571.4 2056.5Z" fill="#b58700" stroke="#b58700" stroke-width="0.8" stroke-linejoin="round"/>
<path d="M532.4 2056.5 L545.7 2046.5 L584.6 2046.5 L571.4 2056.5Z" fill="#d9a300" stroke="#d9a300" stroke-width="0.8" stroke-linejoin="round"/>
<rect x="532.4" y="2056.5" width="39.0" height="71.1" fill="#ffc000" stroke="#ffc000" stroke-width="0.6"/>
<path d="M668.2 2127.6 L681.4 2117.5 L681.4 2076.1 L668.2 2086.1Z" fill="#b58700" stroke="#b58700" stroke-width="0.8" stroke-linejoin="round"/>
<path d="M629.2 2086.1 L642.5 2076.1 L681.4 2076.1 L668.2 2086.1Z" fill="#d9a300" stroke="#d9a300" stroke-width="0.8" stroke-linejoin="round"/>
<rect x="629.2" y="2086.1" width="39.0" height="41.4" fill="#ffc000" stroke="#ffc000" stroke-width="0.6"/>
<path d="M765.0 2127.6 L778.2 2117.5 L778.2 2080.6 L765.0 2090.6Z" fill="#b58700" stroke="#b58700" stroke-width="0.8" stroke-linejoin="round"/>
<path d="M726.1 2090.6 L739.2 2080.6 L778.2 2080.6 L765.0 2090.6Z" fill="#d9a300" stroke="#d9a300" stroke-width="0.8" stroke-linejoin="round"/>
<rect x="726.1" y="2090.6" width="39.0" height="37.0" fill="#ffc000" stroke="#ffc000" stroke-width="0.6"/>
<path d="M861.8 2127.6 L875.0 2117.5 L875.0 2094.6 L861.8 2104.6Z" fill="#b58700" stroke="#b58700" stroke-width="0.8" stroke-linejoin="round"/>
<path d="M822.9 2104.6 L836.0 2094.6 L875.0 2094.6 L861.8 2104.6Z" fill="#d9a300" stroke="#d9a300" stroke-width="0.8" stroke-linejoin="round"/>
<rect x="822.9" y="2104.6" width="39.0" height="22.9" fill="#ffc000" stroke="#ffc000" stroke-width="0.6"/>
<path d="M344.6 2152.6 L357.9 2142.6 L357.9 2086.8 L344.6 2096.9Z" fill="#134488" stroke="#134488" stroke-width="0.8" stroke-linejoin="round"/>
<path d="M305.6 2096.9 L318.9 2086.8 L357.9 2086.8 L344.6 2096.9Z" fill="#17509c" stroke="#17509c" stroke-width="0.8" stroke-linejoin="round"/>
<rect x="305.6" y="2096.9" width="39.0" height="55.8" fill="#1c73cf" stroke="#1c73cf" stroke-width="0.6"/>
<path d="M441.5 2152.6 L454.7 2142.6 L454.7 2034.6 L441.5 2044.6Z" fill="#134488" stroke="#134488" stroke-width="0.8" stroke-linejoin="round"/>
<path d="M402.5 2044.6 L415.7 2034.6 L454.7 2034.6 L441.5 2044.6Z" fill="#17509c" stroke="#17509c" stroke-width="0.8" stroke-linejoin="round"/>
<rect x="402.5" y="2044.6" width="39.0" height="108.0" fill="#1c73cf" stroke="#1c73cf" stroke-width="0.6"/>
<path d="M538.3 2152.6 L551.6 2142.6 L551.6 2078.2 L538.3 2088.3Z" fill="#134488" stroke="#134488" stroke-width="0.8" stroke-linejoin="round"/>
<path d="M499.4 2088.3 L512.6 2078.2 L551.6 2078.2 L538.3 2088.3Z" fill="#17509c" stroke="#17509c" stroke-width="0.8" stroke-linejoin="round"/>
<rect x="499.4" y="2088.3" width="39.0" height="64.4" fill="#1c73cf" stroke="#1c73cf" stroke-width="0.6"/>
<path d="M635.2 2152.6 L648.4 2142.6 L648.4 2108.2 L635.2 2118.2Z" fill="#134488" stroke="#134488" stroke-width="0.8" stroke-linejoin="round"/>
<path d="M596.2 2118.2 L609.4 2108.2 L648.4 2108.2 L635.2 2118.2Z" fill="#17509c" stroke="#17509c" stroke-width="0.8" stroke-linejoin="round"/>
<rect x="596.2" y="2118.2" width="39.0" height="34.4" fill="#1c73cf" stroke="#1c73cf" stroke-width="0.6"/>
<path d="M732.1 2152.6 L745.3 2142.6 L745.3 2115.5 L732.1 2125.5Z" fill="#134488" stroke="#134488" stroke-width="0.8" stroke-linejoin="round"/>
<path d="M693.1 2125.5 L706.3 2115.5 L745.3 2115.5 L732.1 2125.5Z" fill="#17509c" stroke="#17509c" stroke-width="0.8" stroke-linejoin="round"/>
<rect x="693.1" y="2125.5" width="39.0" height="27.1" fill="#1c73cf" stroke="#1c73cf" stroke-width="0.6"/>
<path d="M828.9 2152.6 L842.1 2142.6 L842.1 2119.7 L828.9 2129.7Z" fill="#134488" stroke="#134488" stroke-width="0.8" stroke-linejoin="round"/>
<path d="M790.0 2129.7 L803.1 2119.7 L842.1 2119.7 L828.9 2129.7Z" fill="#17509c" stroke="#17509c" stroke-width="0.8" stroke-linejoin="round"/>
<rect x="790.0" y="2129.7" width="39.0" height="22.9" fill="#1c73cf" stroke="#1c73cf" stroke-width="0.6"/>
<path d="M311.4 2177.7 L324.7 2167.7 L324.7 2103.9 L311.4 2114.0Z" fill="#2e7826" stroke="#2e7826" stroke-width="0.8" stroke-linejoin="round"/>
<path d="M272.4 2114.0 L285.7 2103.9 L324.7 2103.9 L311.4 2114.0Z" fill="#378b2e" stroke="#378b2e" stroke-width="0.8" stroke-linejoin="round"/>
<rect x="272.4" y="2114.0" width="39.0" height="63.7" fill="#47ad3b" stroke="#47ad3b" stroke-width="0.6"/>
<path d="M408.3 2177.7 L421.6 2167.7 L421.6 2074.3 L408.3 2084.3Z" fill="#2e7826" stroke="#2e7826" stroke-width="0.8" stroke-linejoin="round"/>
<path d="M369.4 2084.3 L382.6 2074.3 L421.6 2074.3 L408.3 2084.3Z" fill="#378b2e" stroke="#378b2e" stroke-width="0.8" stroke-linejoin="round"/>
<rect x="369.4" y="2084.3" width="39.0" height="93.4" fill="#47ad3b" stroke="#47ad3b" stroke-width="0.6"/>
<path d="M505.3 2177.7 L518.5 2167.7 L518.5 2122.1 L505.3 2132.1Z" fill="#2e7826" stroke="#2e7826" stroke-width="0.8" stroke-linejoin="round"/>
<path d="M466.3 2132.1 L479.5 2122.1 L518.5 2122.1 L505.3 2132.1Z" fill="#378b2e" stroke="#378b2e" stroke-width="0.8" stroke-linejoin="round"/>
<rect x="466.3" y="2132.1" width="39.0" height="45.6" fill="#47ad3b" stroke="#47ad3b" stroke-width="0.6"/>
<path d="M602.2 2177.7 L615.4 2167.7 L615.4 2142.8 L602.2 2152.8Z" fill="#2e7826" stroke="#2e7826" stroke-width="0.8" stroke-linejoin="round"/>
<path d="M563.2 2152.8 L576.4 2142.8 L615.4 2142.8 L602.2 2152.8Z" fill="#378b2e" stroke="#378b2e" stroke-width="0.8" stroke-linejoin="round"/>
<rect x="563.2" y="2152.8" width="39.0" height="24.9" fill="#47ad3b" stroke="#47ad3b" stroke-width="0.6"/>
<path d="M699.1 2177.7 L712.3 2167.7 L712.3 2140.6 L699.1 2150.6Z" fill="#2e7826" stroke="#2e7826" stroke-width="0.8" stroke-linejoin="round"/>
<path d="M660.1 2150.6 L673.3 2140.6 L712.3 2140.6 L699.1 2150.6Z" fill="#378b2e" stroke="#378b2e" stroke-width="0.8" stroke-linejoin="round"/>
<rect x="660.1" y="2150.6" width="39.0" height="27.1" fill="#47ad3b" stroke="#47ad3b" stroke-width="0.6"/>
<path d="M796.0 2177.7 L809.2 2167.7 L809.2 2144.7 L796.0 2154.8Z" fill="#2e7826" stroke="#2e7826" stroke-width="0.8" stroke-linejoin="round"/>
<path d="M757.1 2154.8 L770.2 2144.7 L809.2 2144.7 L796.0 2154.8Z" fill="#378b2e" stroke="#378b2e" stroke-width="0.8" stroke-linejoin="round"/>
<rect x="757.1" y="2154.8" width="39.0" height="22.9" fill="#47ad3b" stroke="#47ad3b" stroke-width="0.6"/>
<path d="M278.2 2202.8 L291.5 2192.8 L291.5 2128.4 L278.2 2138.4Z" fill="#003a63" stroke="#003a63" stroke-width="0.8" stroke-linejoin="round"/>
<path d="M239.3 2138.4 L252.5 2128.4 L291.5 2128.4 L278.2 2138.4Z" fill="#00497a" stroke="#00497a" stroke-width="0.8" stroke-linejoin="round"/>
<rect x="239.3" y="2138.4" width="39.0" height="64.4" fill="#005a92" stroke="#005a92" stroke-width="0.6"/>
<path d="M375.2 2202.8 L388.5 2192.8 L388.5 2109.9 L375.2 2119.9Z" fill="#003a63" stroke="#003a63" stroke-width="0.8" stroke-linejoin="round"/>
<path d="M336.2 2119.9 L349.5 2109.9 L388.5 2109.9 L375.2 2119.9Z" fill="#00497a" stroke="#00497a" stroke-width="0.8" stroke-linejoin="round"/>
<rect x="336.2" y="2119.9" width="39.0" height="82.9" fill="#005a92" stroke="#005a92" stroke-width="0.6"/>
<path d="M472.2 2202.8 L485.4 2192.8 L485.4 2154.8 L472.2 2164.9Z" fill="#003a63" stroke="#003a63" stroke-width="0.8" stroke-linejoin="round"/>
<path d="M433.2 2164.9 L446.5 2154.8 L485.4 2154.8 L472.2 2164.9Z" fill="#00497a" stroke="#00497a" stroke-width="0.8" stroke-linejoin="round"/>
<rect x="433.2" y="2164.9" width="39.0" height="37.9" fill="#005a92" stroke="#005a92" stroke-width="0.6"/>
<path d="M569.2 2202.8 L582.4 2192.8 L582.4 2168.5 L569.2 2178.6Z" fill="#003a63" stroke="#003a63" stroke-width="0.8" stroke-linejoin="round"/>
<path d="M530.2 2178.6 L543.4 2168.5 L582.4 2168.5 L569.2 2178.6Z" fill="#00497a" stroke="#00497a" stroke-width="0.8" stroke-linejoin="round"/>
<rect x="530.2" y="2178.6" width="39.0" height="24.2" fill="#005a92" stroke="#005a92" stroke-width="0.6"/>
<path d="M666.2 2202.8 L679.3 2192.8 L679.3 2169.8 L666.2 2179.8Z" fill="#003a63" stroke="#003a63" stroke-width="0.8" stroke-linejoin="round"/>
<path d="M627.2 2179.8 L640.4 2169.8 L679.3 2169.8 L666.2 2179.8Z" fill="#00497a" stroke="#00497a" stroke-width="0.8" stroke-linejoin="round"/>
<rect x="627.2" y="2179.8" width="39.0" height="22.9" fill="#005a92" stroke="#005a92" stroke-width="0.6"/>
<path d="M763.1 2202.8 L776.3 2192.8 L776.3 2184.5 L763.1 2194.5Z" fill="#003a63" stroke="#003a63" stroke-width="0.8" stroke-linejoin="round"/>
<path d="M724.2 2194.5 L737.3 2184.5 L776.3 2184.5 L763.1 2194.5Z" fill="#00497a" stroke="#00497a" stroke-width="0.8" stroke-linejoin="round"/>
<rect x="724.2" y="2194.5" width="39.0" height="8.3" fill="#005a92" stroke="#005a92" stroke-width="0.6"/>
<text x="123.0" y="903.2" font-size="49" textLength="31.4" lengthAdjust="spacingAndGlyphs">0</text>
<text x="124.0" y="807.7" font-size="49" textLength="30.5" lengthAdjust="spacingAndGlyphs">3</text>
<text x="123.0" y="712.2" font-size="49" textLength="31.4" lengthAdjust="spacingAndGlyphs">6</text>
<text x="123.0" y="616.7" font-size="49" textLength="31.4" lengthAdjust="spacingAndGlyphs">9</text>
<text x="96.5" y="521.2" font-size="49" textLength="57.8" lengthAdjust="spacingAndGlyphs">12</text>
<text x="96.5" y="425.7" font-size="49" textLength="56.9" lengthAdjust="spacingAndGlyphs">15</text>
<text x="96.5" y="330.3" font-size="49" textLength="57.8" lengthAdjust="spacingAndGlyphs">18</text>
<text x="95.5" y="234.8" font-size="49" textLength="58.1" lengthAdjust="spacingAndGlyphs">21</text>
<text x="219.5" y="971.8" font-size="49" textLength="69.1" lengthAdjust="spacingAndGlyphs">&#969;1</text>
<text x="316.5" y="971.8" font-size="49" textLength="70.0" lengthAdjust="spacingAndGlyphs">&#969;2</text>
<text x="413.5" y="971.8" font-size="49" textLength="70.0" lengthAdjust="spacingAndGlyphs">&#969;3</text>
<text x="510.5" y="971.8" font-size="49" textLength="68.2" lengthAdjust="spacingAndGlyphs">&#969;4</text>
<text x="607.5" y="971.8" font-size="49" textLength="69.1" lengthAdjust="spacingAndGlyphs">&#969;5</text>
<text x="704.5" y="971.8" font-size="49" textLength="70.0" lengthAdjust="spacingAndGlyphs">&#969;6</text>
<text x="165.5" y="1076.0" font-size="49" textLength="189.5" lengthAdjust="spacingAndGlyphs">Number</text>
<text x="371.5" y="1076.0" font-size="49" textLength="39.8" lengthAdjust="spacingAndGlyphs">of</text>
<text x="431.0" y="1076.0" font-size="49" textLength="311.1" lengthAdjust="spacingAndGlyphs">displacement</text>
<text x="758.5" y="1076.0" font-size="49" textLength="99.8" lengthAdjust="spacingAndGlyphs">data</text>
<text x="1115.5" y="844.4" font-size="49" textLength="190.0" lengthAdjust="spacingAndGlyphs">Number</text>
<text x="1320.5" y="844.4" font-size="49" textLength="48.7" lengthAdjust="spacingAndGlyphs">of</text>
<text x="1129.5" y="915.0" font-size="49" textLength="240.8" lengthAdjust="spacingAndGlyphs">additional</text>
<text x="1196.0" y="983.5" font-size="49" textLength="104.2" lengthAdjust="spacingAndGlyphs">data</text>
<text x="118.0" y="2228.7" font-size="49" textLength="31.4" lengthAdjust="spacingAndGlyphs">0</text>
<text x="119.0" y="2133.2" font-size="49" textLength="30.5" lengthAdjust="spacingAndGlyphs">3</text>
<text x="118.0" y="2037.7" font-size="49" textLength="31.4" lengthAdjust="spacingAndGlyphs">6</text>
<text x="118.0" y="1942.2" font-size="49" textLength="31.4" lengthAdjust="spacingAndGlyphs">9</text>
<text x="91.5" y="1846.7" font-size="49" textLength="57.8" lengthAdjust="spacingAndGlyphs">12</text>
<text x="91.5" y="1751.3" font-size="49" textLength="56.9" lengthAdjust="spacingAndGlyphs">15</text>
<text x="91.5" y="1655.8" font-size="49" textLength="57.8" lengthAdjust="spacingAndGlyphs">18</text>
<text x="90.5" y="1560.3" font-size="49" textLength="58.1" lengthAdjust="spacingAndGlyphs">21</text>
<text x="214.5" y="2297.3" font-size="49" textLength="69.1" lengthAdjust="spacingAndGlyphs">&#969;1</text>
<text x="311.5" y="2297.3" font-size="49" textLength="70.0" lengthAdjust="spacingAndGlyphs">&#969;2</text>
<text x="408.5" y="2297.3" font-size="49" textLength="70.0" lengthAdjust="spacingAndGlyphs">&#969;3</text>
<text x="505.5" y="2297.3" font-size="49" textLength="68.2" lengthAdjust="spacingAndGlyphs">&#969;4</text>
<text x="602.5" y="2297.3" font-size="49" textLength="69.1" lengthAdjust="spacingAndGlyphs">&#969;5</text>
<text x="699.5" y="2297.3" font-size="49" textLength="70.0" lengthAdjust="spacingAndGlyphs">&#969;6</text>
<text x="160.5" y="2401.5" font-size="49" textLength="189.5" lengthAdjust="spacingAndGlyphs">Number</text>
<text x="366.5" y="2401.5" font-size="49" textLength="39.8" lengthAdjust="spacingAndGlyphs">of</text>
<text x="426.0" y="2401.5" font-size="49" textLength="311.1" lengthAdjust="spacingAndGlyphs">displacement</text>
<text x="753.5" y="2401.5" font-size="49" textLength="99.8" lengthAdjust="spacingAndGlyphs">data</text>
<text x="1110.5" y="2169.9" font-size="49" textLength="190.0" lengthAdjust="spacingAndGlyphs">Number</text>
<text x="1315.5" y="2169.9" font-size="49" textLength="48.7" lengthAdjust="spacingAndGlyphs">of</text>
<text x="1124.5" y="2240.5" font-size="49" textLength="240.8" lengthAdjust="spacingAndGlyphs">additional</text>
<text x="1191.0" y="2309.0" font-size="49" textLength="104.2" lengthAdjust="spacingAndGlyphs">data</text>
<text x="1040.0" y="740.7" font-size="49" textLength="172.9" lengthAdjust="spacingAndGlyphs"><tspan font-style="italic">&#981;</tspan>0 [20]</text>
<text x="1003.0" y="788.3" font-size="49" textLength="65.5" lengthAdjust="spacingAndGlyphs"><tspan font-style="italic">&#981;</tspan>2</text>
<text x="937.5" y="837.7" font-size="49" textLength="63.7" lengthAdjust="spacingAndGlyphs"><tspan font-style="italic">&#981;</tspan>4</text>
<text x="871.0" y="887.6" font-size="49" textLength="66.1" lengthAdjust="spacingAndGlyphs"><tspan font-style="italic">&#981;</tspan>6</text>
<text x="1034.5" y="2063.8" font-size="49" textLength="161.9" lengthAdjust="spacingAndGlyphs">&#949;0 [20]</text>
<text x="998.0" y="2115.2" font-size="49" textLength="55.0" lengthAdjust="spacingAndGlyphs">&#949;2</text>
<text x="931.5" y="2163.5" font-size="49" textLength="54.2" lengthAdjust="spacingAndGlyphs">&#949;4</text>
<text x="864.0" y="2213.8" font-size="49" textLength="56.9" lengthAdjust="spacingAndGlyphs">&#949;6</text>
<text transform="translate(67.6,548.7) rotate(-90)" font-size="53.5" text-anchor="middle" textLength="254" lengthAdjust="spacingAndGlyphs">NMAPE(%)</text>
<text transform="translate(62.599999999999994,1874.2) rotate(-90)" font-size="53.5" text-anchor="middle" textLength="254" lengthAdjust="spacingAndGlyphs">NMAPE(%)</text>
</g>
<text class="cp" transform="translate(665.6,1227) scale(0.86,1)">(</text>
<text class="cp cb" transform="translate(700.3,1227) scale(0.94,1)">a</text>
<text class="cp" transform="translate(734.3,1227) scale(0.86,1)">)</text>
<text class="cp" transform="translate(661.6,2556.5) scale(0.86,1)">(</text>
<text class="cp cb" transform="translate(700.2,2556.5) scale(1.05,1)">b</text>
<text class="cp" transform="translate(739.3,2556.5) scale(0.86,1)">)</text>
</svg>
</body></html>
